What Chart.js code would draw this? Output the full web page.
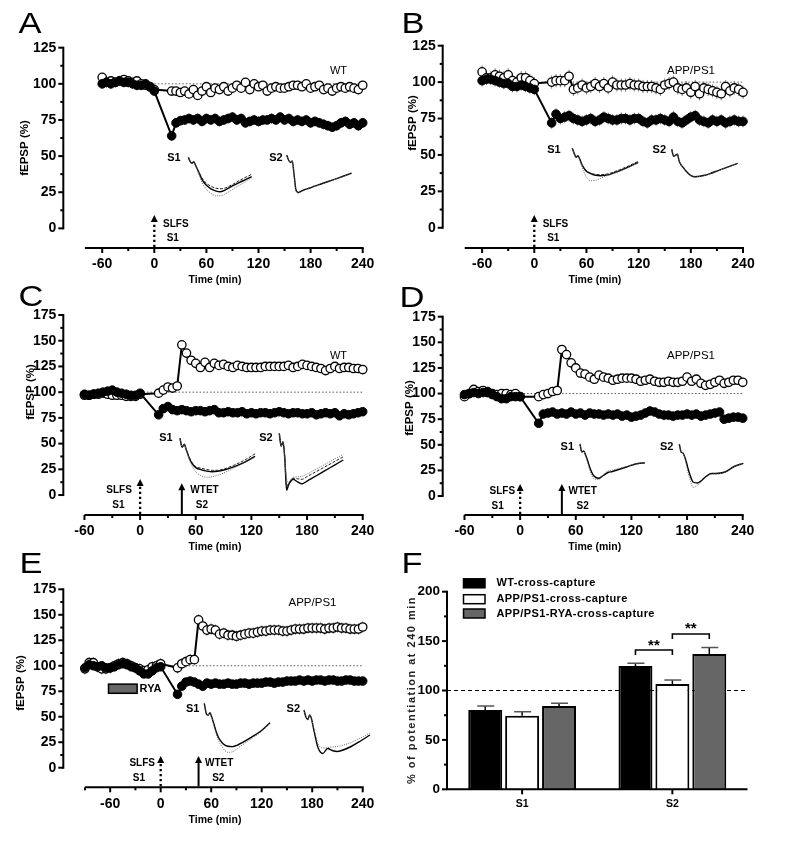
<!DOCTYPE html>
<html>
<head>
<meta charset="utf-8">
<script src="https://cdn.jsdelivr.net/npm/chart.js@4.4.0/dist/chart.umd.min.js"></script>
<style>
  body { margin: 0; background: #fff; width: 793px; height: 848px; position: relative; overflow: hidden; }
  canvas { position: absolute; }
  .lbl { position: absolute; line-height: 1; white-space: nowrap; color: #000;
         font-family: "Liberation Sans", Arial, sans-serif; transform: translate(-50%, -50%); }
</style>
</head>
<body>
<script>
// ---------- time axis ----------
const tBase = [-60, -55, -50, -45, -40, -35, -30, -25, -20, -15, -10, -5, 0];
const tBaseE = [-90, -85, -80, -75, -70, -65, -60, -55, -50, -45, -40, -35, -30, -25, -20, -15, -10, -5, 0];
const tPost = [20, 25, 30, 35, 40, 45, 50, 55, 60, 65, 70, 75, 80, 85, 90, 95, 100, 105, 110, 115, 120,
  125, 130, 135, 140, 145, 150, 155, 160, 165, 170, 175, 180, 185, 190, 195, 200, 205, 210, 215, 220,
  225, 230, 235, 240];

const xTicksTime = [-60, 0, 60, 120, 180, 240];
const yTicks125 = [0, 25, 50, 75, 100, 125];
const yTicks175 = [0, 25, 50, 75, 100, 125, 150, 175];

// ---------- A: WT, SLFS only ----------
const aFilledBase = [100, 101, 100, 101, 102, 101, 101, 100, 99, 99, 100, 98, 95];
const aOpenBase = [104.5, 101, 102, 101, 102, 103, 102, 101, 102, 100, 99, 98, 96];
const aFilledPost = [64, 73, 74.5, 75, 76, 75, 76, 74, 76, 75, 76, 74, 75, 76, 77, 75, 76, 73, 74, 75,
  74, 75, 75, 76, 75, 77, 75, 76, 74, 75, 74, 75, 73, 74, 73, 72, 71, 70, 71, 73, 74, 72, 73, 71, 73];
const aOpenPost = [95, 95, 94, 95, 93, 96, 92, 95, 98, 94, 97, 96, 98, 95, 97, 99, 97, 101, 96, 100,
  98, 99, 95, 97, 98, 97, 97, 98, 99, 99, 98, 100, 97, 98, 99, 96, 97, 95, 97, 98, 97, 98, 97, 96, 99];
const aSemFilled = 3.5, aSemOpen = 3;

// ---------- B: APP/PS1, SLFS only ----------
const bFilledBase = [101, 102, 102, 101, 100, 99, 99, 97, 97, 98, 97, 96, 95];
const bOpenBase = [107, 103, 103, 105, 104, 103, 105, 101, 100, 103, 103, 101, 99];
const bFilledPost = [72, 78, 75, 76, 77, 75, 74, 73, 74, 75, 73, 74, 76, 75, 74, 74, 75, 75, 74, 75,
  75, 73, 72, 74, 74, 75, 74, 73, 76, 73, 72, 74, 76, 77, 74, 73, 72, 74, 73, 74, 72, 73, 74, 73, 73];
const bOpenPost = [100, 101, 101, 101, 104, 95, 96, 98, 96, 97, 99, 97, 99, 96, 100, 98, 98, 98, 99, 98,
  98, 97, 97, 97, 96, 95, 98, 99, 100, 96, 95, 96, 93, 97, 92, 96, 95, 94, 93, 92, 97, 94, 96, 95, 93];
const bSemFilled = 4, bSemOpen = 4.5;

// ---------- C: WT, SLFS + WTET ----------
const cFilledBase = [98, 97, 98, 99, 100, 101, 102, 100, 99, 98, 97, 97, 99];
const cOpenBase = [97, 97, 98, 98, 99, 98, 97, 97, 97, 96, 96, 96, 98];
const cFilledPost = [78, 84, 86, 83, 82, 83, 82, 81, 82, 82, 81, 82, 83, 80, 80, 81, 80, 80, 81, 79,
  80, 79, 80, 80, 79, 80, 81, 80, 79, 80, 80, 79, 79, 80, 78, 79, 80, 79, 80, 77, 79, 78, 79, 80, 81];
const cOpenPost = [99, 102, 105, 104, 106, 146, 138, 131, 128, 124, 129, 124, 128, 126, 127, 125, 124, 126, 125, 124,
  124, 124, 124, 125, 125, 125, 125, 125, 126, 124, 125, 127, 126, 125, 124, 123, 121, 123, 125, 123, 124, 124, 123, 123, 122];
const cSemFilled = 2.5, cSemOpen = 2.5;

// ---------- D: APP/PS1, SLFS + WTET ----------
const dFilledBase = [99, 100, 101, 100, 101, 102, 99, 97, 95, 95, 97, 97, 97];
const dOpenBase = [97, 100, 104, 102, 103, 101, 100, 99, 100, 100, 99, 100, 97];
const dFilledPost = [71, 80, 81, 82, 80, 81, 80, 82, 80, 81, 79, 81, 80, 80, 79, 80, 79, 80, 78, 79,
  77, 78, 79, 81, 83, 82, 80, 79, 79, 78, 79, 79, 80, 79, 80, 78, 79, 80, 81, 82, 75, 76, 77, 77, 76];
const dOpenPost = [97, 99, 100, 102, 103, 143, 138, 130, 125, 120, 119, 116, 114, 118, 116, 115, 113, 114, 115, 115,
  115, 114, 112, 113, 114, 112, 111, 111, 112, 111, 111, 112, 116, 112, 114, 110, 108, 109, 111, 113, 110, 111, 113, 113, 111];
const dSemFilled = 2.5, dSemOpen = 3;

// ---------- E: APP/PS1 + RYA, SLFS + WTET ----------
const eFilledBase = [98, 101, 100, 99, 100, 98, 98, 99, 101, 102, 101, 99, 98, 95, 92, 92, 95, 98, 99];
const eOpenBase = [97, 103, 103, 99, 97, 97, 98, 100, 102, 103, 102, 100, 98, 97, 95, 96, 99, 100, 102];
const eFilledPost = [72, 80, 84, 85, 84, 82, 80, 83, 82, 83, 82, 82, 83, 82, 82, 83, 83, 82, 83, 83,
  83, 84, 84, 83, 84, 84, 85, 85, 85, 86, 85, 86, 85, 86, 86, 85, 86, 86, 85, 85, 86, 86, 85, 85, 85];
const eOpenPost = [98, 102, 104, 106, 106, 145, 139, 135, 136, 135, 131, 132, 130, 130, 129, 130, 131, 132, 132, 133,
  134, 134, 135, 135, 135, 134, 134, 135, 136, 136, 136, 137, 137, 137, 137, 136, 137, 137, 138, 137, 137, 136, 136, 136, 138];
const eSemFilled = 2.5, eSemOpen = 5.5;
const ryaWindow = [-62, -28];   // min
const ryaLevel = [73, 82];      // drawn band on the % scale

// ---------- fEPSP sample traces (ms / mV) ----------
const traceMs = [0, 0.4, 0.8, 1.2, 1.6, 2, 2.5, 3, 4, 5, 6, 7, 8, 10, 12, 14];
const trA1solid = [0, -0.4, -0.6, -0.45, -0.8, -1.2, -1.7, -2.2, -2.8, -3.15, -3.35, -3.44, -3.3, -2.8, -2.37, -1.94];
const trA1dot = [0, -0.4, -0.6, -0.45, -0.85, -1.3, -1.9, -2.5, -3.2, -3.6, -3.85, -3.85, -3.7, -3.15, -2.6, -2.05];
const trA1dash = [0, -0.4, -0.6, -0.45, -0.8, -1.15, -1.6, -2.05, -2.6, -2.9, -3.08, -3.15, -3.1, -2.65, -2.15, -1.7];
const trA2solid = [0, -0.5, -0.75, -0.6, -2.0, -3.5, -3.75, -3.65, -3.44, -3.3, -3.12, -2.97, -2.8, -2.48, -2.15, -1.82];
const trA2dot = [0, -0.5, -0.75, -0.6, -2.1, -3.6, -3.82, -3.7, -3.5, -3.33, -3.15, -3.0, -2.83, -2.5, -2.17, -1.85];
const trB1solid = [0, -0.5, -0.9, -0.75, -1.1, -1.6, -2.0, -2.3, -2.55, -2.7, -2.74, -2.7, -2.6, -2.25, -1.85, -1.4];
const trB1dot = [0, -0.5, -0.9, -0.75, -1.2, -1.8, -2.4, -2.9, -3.25, -3.2, -3.0, -2.8, -2.65, -2.3, -1.9, -1.45];
const trB1dash = [0, -0.5, -0.9, -0.75, -1.1, -1.55, -1.95, -2.25, -2.5, -2.62, -2.65, -2.6, -2.5, -2.15, -1.75, -1.3];
const trB2solid = [0, -0.7, -0.6, -0.5, -1.2, -1.55, -1.85, -2.15, -2.6, -2.74, -2.7, -2.6, -2.45, -2.1, -1.75, -1.4];
const trB2dot = [0, -0.7, -0.6, -0.5, -1.2, -1.6, -1.9, -2.2, -2.62, -2.75, -2.72, -2.62, -2.47, -2.12, -1.77, -1.42];
const trC1solid = [0, -0.9, -0.6, -1.2, -1.8, -2.3, -2.7, -2.95, -3.15, -3.28, -3.34, -3.3, -3.2, -2.85, -2.4, -1.8];
const trC1dot = [0, -0.9, -0.6, -1.25, -1.9, -2.5, -3.0, -3.4, -3.75, -3.9, -3.85, -3.7, -3.5, -3.0, -2.45, -1.9];
const trC1dash = [0, -0.9, -0.6, -1.2, -1.75, -2.2, -2.6, -2.85, -3.0, -3.12, -3.2, -3.2, -3.1, -2.7, -2.2, -1.55];
const trC2solid = [0, -1.3, -0.85, -2.5, -5.7, -5.2, -4.8, -4.6, -4.85, -5.05, -4.8, -4.54, -4.27, -3.74, -3.2, -2.67];
const trC2dot = [0, -1.3, -0.85, -2.3, -4.6, -4.9, -4.6, -4.4, -4.35, -4.3, -4.1, -3.85, -3.6, -3.1, -2.6, -2.1];
const trC2dash = [0, -1.3, -0.85, -2.4, -5.3, -5.0, -4.7, -4.5, -4.55, -4.6, -4.35, -4.1, -3.85, -3.35, -2.85, -2.35];
const trD1solid = [0, -0.8, -0.7, -1.1, -1.6, -2.2, -2.8, -3.2, -3.43, -3.15, -2.85, -2.75, -2.6, -2.3, -2.0, -1.87];
const trD1dot = [0, -0.8, -0.7, -1.2, -1.8, -2.5, -3.1, -3.5, -3.55, -3.1, -2.7, -2.6, -2.5, -2.25, -1.98, -1.85];
const trD2solid = [0, -0.8, -0.9, -1.3, -1.9, -2.6, -3.3, -3.8, -3.9, -3.6, -3.2, -2.95, -2.95, -2.8, -2.25, -1.93];
const trD2dot = [0, -0.8, -0.9, -1.4, -2.2, -3.0, -3.8, -4.35, -4.1, -3.7, -3.25, -3.0, -3.0, -2.8, -2.25, -1.95];
const trE1solid = [0, -1.0, -1.2, -0.95, -1.4, -2.0, -2.8, -3.4, -4.05, -4.3, -4.33, -4.2, -3.95, -3.4, -2.8, -1.94];
const trE1dot = [0, -1.0, -1.2, -0.95, -1.45, -2.1, -3.0, -3.7, -4.5, -4.9, -4.85, -4.55, -4.2, -3.55, -2.9, -2.0];
const trE2solid = [0, -0.7, -0.95, -0.5, -0.9, -1.8, -2.9, -3.8, -4.35, -3.85, -4.05, -4.15, -4.05, -3.65, -3.1, -2.5];
const trE2dot = [0, -0.7, -0.95, -0.5, -0.9, -1.7, -2.6, -3.4, -3.8, -3.75, -3.7, -3.65, -3.55, -3.25, -2.8, -2.3];

// ---------- F: potentiation at 240 min ----------
const fCats = ['S1', 'S2'];
const fSeries = ['WT-cross-capture', 'APP/PS1-cross-capture', 'APP/PS1-RYA-cross-capture'];
const fWT = [80.3, 124.8], fWTErr = [4, 2.8];
const fAPP = [74.5, 106.6], fAPPErr = [4, 4];
const fRYA = [84.3, 137], fRYAErr = [2.8, 6.5];
const yTicksF = [0, 50, 100, 150, 200];

const FAMILY = '"Liberation Sans", Arial, sans-serif';
Chart.defaults.font.family = FAMILY;
Chart.defaults.color = '#000';

function pts(t, v) {
  return t.map((tt, i) => ({ x: tt, y: v[i] }));
}

function addCanvas(left, top, w, h) {
  const c = document.createElement('canvas');
  c.width = w; c.height = h;
  c.style.left = left + 'px'; c.style.top = top + 'px';
  c.style.width = w + 'px'; c.style.height = h + 'px';
  document.body.appendChild(c);
  return c;
}

function addLabel(text, x, y, size, weight, extra) {
  const d = document.createElement('div');
  d.className = 'lbl';
  d.textContent = text;
  d.style.left = x + 'px'; d.style.top = y + 'px';
  d.style.fontSize = size + 'px';
  d.style.fontWeight = weight;
  if (extra) d.style.transform = 'translate(-50%, -50%) ' + extra;
  document.body.appendChild(d);
}

function timeDecor(p) {
  const [bl, bt] = p.box;
  return {
    id: 'timeDecor',
    beforeDatasetsDraw(chart) {
      const { ctx, scales: { x, y } } = chart;
      ctx.save();
      ctx.strokeStyle = '#555'; ctx.lineWidth = 1; ctx.setLineDash([1.5, 2]);
      const yr = y.getPixelForValue(100);
      ctx.beginPath();
      ctx.moveTo(x.getPixelForValue(0), yr);
      ctx.lineTo(x.getPixelForValue(240), yr);
      ctx.stroke();
      ctx.setLineDash([]);
      ctx.strokeStyle = '#777';
      chart.data.datasets.forEach((ds, i) => {
        chart.getDatasetMeta(i).data.forEach((el, j) => {
          const v = ds.data[j].y;
          ctx.beginPath();
          ctx.moveTo(el.x, y.getPixelForValue(v - ds.sem));
          ctx.lineTo(el.x, y.getPixelForValue(v + ds.sem));
          ctx.stroke();
        });
      });
      ctx.restore();
    },
    afterDraw(chart) {
      const { ctx, chartArea: a, scales: { x, y } } = chart;
      ctx.save();
      ctx.strokeStyle = '#000'; ctx.fillStyle = '#000'; ctx.lineWidth = 2;
      // y axis (stops at 0, detached from the time axis)
      const yZero = y.getPixelForValue(0);
      ctx.beginPath();
      ctx.moveTo(a.left, yZero + 1);
      ctx.lineTo(a.left, y.getPixelForValue(p.yTop) - 1);
      ctx.stroke();
      for (let v = 0; v <= p.yTop; v += 12.5) {
        const py = y.getPixelForValue(v);
        ctx.beginPath();
        ctx.moveTo(a.left, py);
        ctx.lineTo(a.left - (v % 25 === 0 ? 5 : 3), py);
        ctx.stroke();
      }
      // time axis
      const axY = a.bottom;
      ctx.beginPath();
      ctx.moveTo(x.getPixelForValue(p.xStart), axY);
      ctx.lineTo(x.getPixelForValue(240) + 1, axY);
      ctx.stroke();
      for (let t = Math.ceil(p.xStart / 30) * 30; t <= 240; t += 30) {
        const px = x.getPixelForValue(t);
        ctx.beginPath();
        ctx.moveTo(px, axY);
        ctx.lineTo(px, axY + (t % 60 === 0 ? 5 : 3));
        ctx.stroke();
      }
      // axis titles
      ctx.textBaseline = 'middle';
      ctx.textAlign = 'center';
      ctx.font = 'bold 10.5px ' + FAMILY;
      ctx.fillText('Time (min)', (a.left + a.right) / 2 + 2, axY + 32.5);
      ctx.save();
      ctx.translate(p.yTitle[0] - bl, p.yTitle[1] - bt);
      ctx.rotate(-Math.PI / 2);
      ctx.font = 'bold 11.5px ' + FAMILY;
      ctx.fillText('fEPSP (%)', 0, 0);
      ctx.restore();
      // stimulation arrows
      p.arrows.forEach(ar => {
        const ax = x.getPixelForValue(ar.t), tip = axY - ar.up;
        ctx.lineWidth = ar.dotted ? 2.3 : 2;
        ctx.setLineDash(ar.dotted ? [2.2, 2.8] : []);
        ctx.beginPath();
        ctx.moveTo(ax, axY - 1);
        ctx.lineTo(ax, tip + 6);
        ctx.stroke();
        ctx.setLineDash([]);
        ctx.beginPath();
        ctx.moveTo(ax, tip);
        ctx.lineTo(ax - 3.5, tip + 7);
        ctx.lineTo(ax + 3.5, tip + 7);
        ctx.closePath();
        ctx.fill();
        ctx.font = 'bold 10px ' + FAMILY;
        ar.texts.forEach(tx => {
          ctx.textAlign = tx.align;
          ctx.fillText(tx.s, ax + tx.dx, axY + tx.dy);
        });
      });
      // drug application bar
      if (p.drug) {
        const x1 = x.getPixelForValue(p.drug.window[0]), x2 = x.getPixelForValue(p.drug.window[1]);
        const y1 = y.getPixelForValue(p.drug.level[1]), y2 = y.getPixelForValue(p.drug.level[0]);
        ctx.fillStyle = '#666';
        ctx.fillRect(x1, y1, x2 - x1, y2 - y1);
        ctx.lineWidth = 1.5; ctx.strokeStyle = '#000';
        ctx.strokeRect(x1, y1, x2 - x1, y2 - y1);
        ctx.fillStyle = '#000';
        ctx.font = 'bold 11px ' + FAMILY;
        ctx.textAlign = 'left';
        ctx.fillText(p.drug.name, x2 + 2.5, (y1 + y2) / 2);
      }
      ctx.restore();
    }
  };
}

function makeTimePanel(p) {
  const [bl, bt, bw, bh] = p.box;
  const [L, T, R, B] = p.area;
  const cv = addCanvas(bl, bt, bw, bh);
  const tickFont = { family: FAMILY, size: 14, weight: 'bold' };
  new Chart(cv, {
    type: 'line',
    data: {
      datasets: [
        { data: pts(p.tFilled, p.filled), sem: p.semFilled, borderColor: '#000', borderWidth: 2,
          pointRadius: 4.3, pointBackgroundColor: '#000', pointBorderColor: '#000', pointBorderWidth: 1, clip: false },
        { data: pts(p.tOpen, p.open), sem: p.semOpen, borderColor: '#000', borderWidth: 2,
          pointRadius: 4.2, pointBackgroundColor: '#fff', pointBorderColor: '#000', pointBorderWidth: 1.3, clip: false },
      ],
    },
    options: {
      responsive: false,
      animation: false,
      devicePixelRatio: 1,
      layout: { padding: { top: T - bt, right: bl + bw - R, left: 0, bottom: 0 } },
      plugins: { legend: { display: false }, tooltip: { enabled: false } },
      scales: {
        x: {
          type: 'linear', min: p.x[0], max: p.x[1],
          border: { display: false }, grid: { display: false, drawTicks: false },
          ticks: { color: '#000', font: tickFont, padding: 8, maxRotation: 0, minRotation: 0, autoSkip: false },
          afterBuildTicks: s => { s.ticks = xTicksTime.map(v => ({ value: v })); },
          afterFit: s => { s.height = bt + bh - B; },
        },
        y: {
          type: 'linear', min: p.y[0], max: p.y[1],
          border: { display: false }, grid: { display: false, drawTicks: false },
          ticks: { color: '#000', font: tickFont, padding: 7 },
          afterBuildTicks: s => { s.ticks = p.yTicks.map(v => ({ value: v })); },
          afterFit: s => { s.width = L - bl; },
        },
      },
    },
    plugins: [timeDecor(p)],
  });
}

function makeTrace(x0, y0, pms, lines) {
  const pmv = 10, padX = 4, padTop = 5, h = 72;
  const w = Math.round(14 * pms + 2 * padX);
  const cv = addCanvas(Math.round(x0 - padX), Math.round(y0 - padTop), w, h);
  const left = Math.round(x0 - padX), top = Math.round(y0 - padTop);
  const styles = {
    solid: { borderColor: '#000', borderWidth: 1.4, borderDash: [] },
    dot: { borderColor: '#666', borderWidth: 1, borderDash: [1, 1.3] },
    dash: { borderColor: '#222', borderWidth: 1, borderDash: [3, 1.5] },
  };
  new Chart(cv, {
    type: 'line',
    data: {
      datasets: lines.map(l => Object.assign({
        data: pts(traceMs, l.v), pointRadius: 0, cubicInterpolationMode: 'monotone', clip: false,
      }, styles[l.style])),
    },
    options: {
      responsive: false, animation: false, devicePixelRatio: 1,
      layout: { padding: 0 },
      plugins: { legend: { display: false }, tooltip: { enabled: false } },
      scales: {
        x: { type: 'linear', display: false, min: -(x0 - left) / pms, max: -(x0 - left) / pms + w / pms },
        y: { type: 'linear', display: false, max: (y0 - top) / pmv, min: (y0 - top) / pmv - h / pmv },
      },
    },
  });
}

// ---------- panels A-E ----------
makeTimePanel({
  box: [0, 0, 400, 290], area: [63.3, 47.7, 362.7, 248], x: [-104.8, 240], y: [-13.6, 125],
  yTicks: yTicks125, yTop: 125, xStart: -80, yTitle: [25, 148],
  tFilled: tBase.concat(tPost), filled: aFilledBase.concat(aFilledPost), semFilled: aSemFilled,
  tOpen: tBase.concat(tPost), open: aOpenBase.concat(aOpenPost), semOpen: aSemOpen,
  arrows: [{ t: 0, dotted: true, up: 33, texts: [
    { s: 'SLFS', dx: 8.7, dy: -24, align: 'left' }, { s: 'S1', dx: 18.5, dy: -9.7, align: 'center' }] }],
});
makeTimePanel({
  box: [400, 0, 393, 290], area: [442.7, 45.7, 743, 248], x: [-105.3, 240], y: [-13.9, 125],
  yTicks: yTicks125, yTop: 125, xStart: -80, yTitle: [413, 123],
  tFilled: tBase.concat(tPost), filled: bFilledBase.concat(bFilledPost), semFilled: bSemFilled,
  tOpen: tBase.concat(tPost), open: bOpenBase.concat(bOpenPost), semOpen: bSemOpen,
  arrows: [{ t: 0, dotted: true, up: 33, texts: [
    { s: 'SLFS', dx: 8.4, dy: -24, align: 'left' }, { s: 'S1', dx: 19, dy: -9.7, align: 'center' }] }],
});
makeTimePanel({
  box: [0, 280, 400, 290], area: [63.3, 315, 362.7, 515], x: [-82.8, 240], y: [-19.4, 175],
  yTicks: yTicks175, yTop: 175, xStart: -60, yTitle: [31, 392],
  tFilled: tBase.concat(tPost), filled: cFilledBase.concat(cFilledPost), semFilled: cSemFilled,
  tOpen: tBase.concat(tPost), open: cOpenBase.concat(cOpenPost), semOpen: cSemOpen,
  arrows: [
    { t: 0, dotted: true, up: 36, texts: [
      { s: 'SLFS', dx: -8.3, dy: -24.3, align: 'right' }, { s: 'S1', dx: -21.7, dy: -10, align: 'center' }] },
    { t: 45, dotted: false, up: 31.7, texts: [
      { s: 'WTET', dx: 8.5, dy: -24.3, align: 'left' }, { s: 'S2', dx: 20, dy: -10, align: 'center' }] }],
});
makeTimePanel({
  box: [400, 280, 393, 290], area: [442.7, 316.7, 742.7, 515], x: [-83.5, 240], y: [-18.5, 175],
  yTicks: yTicks175, yTop: 175, xStart: -60, yTitle: [410, 408],
  tFilled: tBase.concat(tPost), filled: dFilledBase.concat(dFilledPost), semFilled: dSemFilled,
  tOpen: tBase.concat(tPost), open: dOpenBase.concat(dOpenPost), semOpen: dSemOpen,
  arrows: [
    { t: 0, dotted: true, up: 31, texts: [
      { s: 'SLFS', dx: -5, dy: -23.3, align: 'right' }, { s: 'S1', dx: -22.5, dy: -8.3, align: 'center' }] },
    { t: 45, dotted: false, up: 31, texts: [
      { s: 'WTET', dx: 6.6, dy: -23.3, align: 'left' }, { s: 'S2', dx: 20.8, dy: -8.3, align: 'center' }] }],
});
makeTimePanel({
  box: [0, 548, 400, 300], area: [63.3, 589.3, 362.7, 787.3], x: [-115.7, 240], y: [-19.2, 175],
  yTicks: yTicks175, yTop: 175, xStart: -90, yTitle: [21, 683],
  tFilled: tBaseE.concat(tPost), filled: eFilledBase.concat(eFilledPost), semFilled: eSemFilled,
  tOpen: tBaseE.concat(tPost), open: eOpenBase.concat(eOpenPost), semOpen: eSemOpen,
  drug: { window: ryaWindow, level: ryaLevel, name: 'RYA' },
  arrows: [
    { t: 0, dotted: true, up: 31.3, texts: [
      { s: 'SLFS', dx: -5.7, dy: -24, align: 'right' }, { s: 'S1', dx: -21.7, dy: -9, align: 'center' }] },
    { t: 45, dotted: false, up: 31.3, texts: [
      { s: 'WTET', dx: 6.4, dy: -24, align: 'left' }, { s: 'S2', dx: 19.7, dy: -9, align: 'center' }] }],
});

// ---------- sample traces ----------
makeTrace(188.3, 157.3, 4.53, [{ v: trA1dot, style: 'dot' }, { v: trA1dash, style: 'dash' }, { v: trA1solid, style: 'solid' }]);
makeTrace(286.7, 155, 4.64, [{ v: trA2dot, style: 'dot' }, { v: trA2solid, style: 'solid' }]);
makeTrace(572.3, 148.3, 4.71, [{ v: trB1dot, style: 'dot' }, { v: trB1dash, style: 'dash' }, { v: trB1solid, style: 'solid' }]);
makeTrace(671.7, 149.3, 4.71, [{ v: trB2dot, style: 'dot' }, { v: trB2solid, style: 'solid' }]);
makeTrace(180, 438.3, 5.36, [{ v: trC1dot, style: 'dot' }, { v: trC1dash, style: 'dash' }, { v: trC1solid, style: 'solid' }]);
makeTrace(279.3, 433.3, 4.57, [{ v: trC2dot, style: 'dot' }, { v: trC2dash, style: 'dash' }, { v: trC2solid, style: 'solid' }]);
makeTrace(580, 444, 4.64, [{ v: trD1dot, style: 'dot' }, { v: trD1solid, style: 'solid' }]);
makeTrace(679.3, 444, 4.57, [{ v: trD2dot, style: 'dot' }, { v: trD2solid, style: 'solid' }]);
makeTrace(204.3, 703.3, 4.69, [{ v: trE1dot, style: 'dot' }, { v: trE1solid, style: 'solid' }]);
makeTrace(304, 710, 4.71, [{ v: trE2dot, style: 'dot' }, { v: trE2solid, style: 'solid' }]);

// ---------- panel F ----------
const barDecor = {
  id: 'barDecor',
  beforeDatasetsDraw(chart) {
    const { ctx, chartArea: a, scales: { y } } = chart;
    ctx.save();
    ctx.strokeStyle = '#000'; ctx.lineWidth = 1; ctx.setLineDash([4, 3]);
    const py = y.getPixelForValue(100);
    ctx.beginPath(); ctx.moveTo(a.left, py); ctx.lineTo(a.right, py); ctx.stroke();
    ctx.restore();
  },
  afterDatasetsDraw(chart) {
    const { ctx, chartArea: a, scales: { x, y } } = chart;
    ctx.save();
    ctx.strokeStyle = '#000'; ctx.fillStyle = '#000';
    // error bars (upward only)
    chart.data.datasets.forEach((ds, i) => {
      chart.getDatasetMeta(i).data.forEach((el, j) => {
        const end = y.getPixelForValue(ds.data[j] + ds.err[j]);
        ctx.lineWidth = 1.5;
        ctx.beginPath(); ctx.moveTo(el.x, el.y); ctx.lineTo(el.x, end); ctx.stroke();
        ctx.strokeStyle = '#555';
        ctx.beginPath(); ctx.moveTo(el.x - 8, end); ctx.lineTo(el.x + 9, end); ctx.stroke();
        ctx.strokeStyle = '#000';
      });
    });
    // axes
    ctx.lineWidth = 2;
    ctx.beginPath();
    ctx.moveTo(a.left, y.getPixelForValue(200) - 1); ctx.lineTo(a.left, a.bottom); ctx.lineTo(a.right, a.bottom);
    ctx.stroke();
    for (let v = 0; v <= 200; v += 25) {
      const py = y.getPixelForValue(v);
      ctx.beginPath(); ctx.moveTo(a.left, py); ctx.lineTo(a.left - (v % 50 === 0 ? 5 : 3), py); ctx.stroke();
    }
    fCats.forEach((c, i) => {
      const px = x.getPixelForValue(i);
      ctx.beginPath(); ctx.moveTo(px, a.bottom); ctx.lineTo(px, a.bottom + 5); ctx.stroke();
    });
    // significance brackets on S2
    const b = [0, 1, 2].map(i => chart.getDatasetMeta(i).data[1].x);
    const sig = [[b[0], b[1], 141, 136, 148.5], [b[1], b[2], 157.2, 152, 165.5]];
    ctx.lineWidth = 1.6;
    ctx.font = 'bold 15px ' + FAMILY; ctx.textAlign = 'center'; ctx.textBaseline = 'middle';
    sig.forEach(([x1, x2, top, foot, label]) => {
      const yt = y.getPixelForValue(top), yf = y.getPixelForValue(foot);
      ctx.beginPath(); ctx.moveTo(x1, yf); ctx.lineTo(x1, yt); ctx.lineTo(x2, yt); ctx.lineTo(x2, yf); ctx.stroke();
      ctx.fillText('**', (x1 + x2) / 2, y.getPixelForValue(label) + 3);
    });
    // legend
    const ox = 400, oy = 545;
    const legY = [583.3, 599.2, 613.5];
    ctx.font = 'bold 11px ' + FAMILY; ctx.textAlign = 'left';
    ctx.letterSpacing = '0.4px';
    chart.data.datasets.forEach((ds, i) => {
      const cy = legY[i] - oy;
      ctx.fillStyle = ds.backgroundColor;
      ctx.fillRect(463.5 - ox, cy - 4.5, 21.5, 9);
      ctx.lineWidth = 1.5; ctx.strokeStyle = '#000';
      ctx.strokeRect(463.5 - ox, cy - 4.5, 21.5, 9);
      ctx.fillStyle = '#000';
      ctx.fillText(ds.label, 496.5 - ox, cy);
    });
    // y title
    ctx.save();
    ctx.translate(411.7 - ox, 690 - oy);
    ctx.rotate(-Math.PI / 2);
    ctx.textAlign = 'center';
    ctx.fillStyle = '#222';
    ctx.letterSpacing = '1.5px';
    ctx.font = 'bold 11px ' + FAMILY;
    ctx.fillText('% of potentiation at 240 min', 0, 0);
    ctx.restore();
    ctx.restore();
  },
};

(function makeBarPanel() {
  const bl = 400, bt = 545, bw = 393, bh = 303;
  const L = 447, T = 591.7, R = 747.5, B = 789.3;
  const cv = addCanvas(bl, bt, bw, bh);
  const common = { borderColor: '#000', borderWidth: 2, borderSkipped: 'bottom',
    categoryPercentage: 0.737, barPercentage: 0.92 };
  new Chart(cv, {
    type: 'bar',
    data: {
      labels: fCats,
      datasets: [
        Object.assign({ label: fSeries[0], data: fWT, err: fWTErr, backgroundColor: '#000' }, common),
        Object.assign({ label: fSeries[1], data: fAPP, err: fAPPErr, backgroundColor: '#fff' }, common),
        Object.assign({ label: fSeries[2], data: fRYA, err: fRYAErr, backgroundColor: '#666' }, common),
      ],
    },
    options: {
      responsive: false, animation: false, devicePixelRatio: 1,
      layout: { padding: { top: T - bt, right: bl + bw - R, left: 0, bottom: 0 } },
      plugins: { legend: { display: false }, tooltip: { enabled: false } },
      scales: {
        x: {
          border: { display: false }, grid: { display: false, drawTicks: false },
          ticks: { color: '#000', font: { family: FAMILY, size: 10.5, weight: 'bold' }, padding: 9 },
          afterFit: s => { s.height = bt + bh - B; },
        },
        y: {
          min: 0, max: 200,
          border: { display: false }, grid: { display: false, drawTicks: false },
          ticks: { color: '#000', font: { family: FAMILY, size: 13.5, weight: 'bold' }, padding: 7 },
          afterBuildTicks: s => { s.ticks = yTicksF.map(v => ({ value: v })); },
          afterFit: s => { s.width = L - bl; },
        },
      },
    },
    plugins: [barDecor],
  });
})();

// ---------- text labels ----------
addLabel('A', 29.5, 23, 30, 'normal', 'scaleX(1.15)');
addLabel('B', 412.5, 23, 30, 'normal', 'scaleX(1.15)');
addLabel('C', 30.5, 296, 30, 'normal', 'scaleX(1.15)');
addLabel('D', 412, 297, 30, 'normal', 'scaleX(1.15)');
addLabel('E', 31, 563, 30, 'normal', 'scaleX(1.15)');
addLabel('F', 411.7, 563, 30, 'normal', 'scaleX(1.15)');

addLabel('WT', 338.5, 70, 11, 'normal');
addLabel('APP/PS1', 691, 70.7, 11.5, 'normal');
addLabel('WT', 338.5, 355, 11, 'normal');
addLabel('APP/PS1', 691, 356, 11.5, 'normal');
addLabel('APP/PS1', 312.5, 603, 11.5, 'normal');

[['S1', 174, 156.7], ['S2', 276, 156.7], ['S1', 554, 149.3], ['S2', 659.3, 149.3],
 ['S1', 166, 437.3], ['S2', 266, 437.3], ['S1', 567.3, 445.7], ['S2', 666.7, 445.7],
 ['S1', 192.7, 708.3], ['S2', 293.3, 708.3]].forEach(([s, x, y]) => addLabel(s, x, y, 11, 'bold'));
</script>
</body>
</html>
